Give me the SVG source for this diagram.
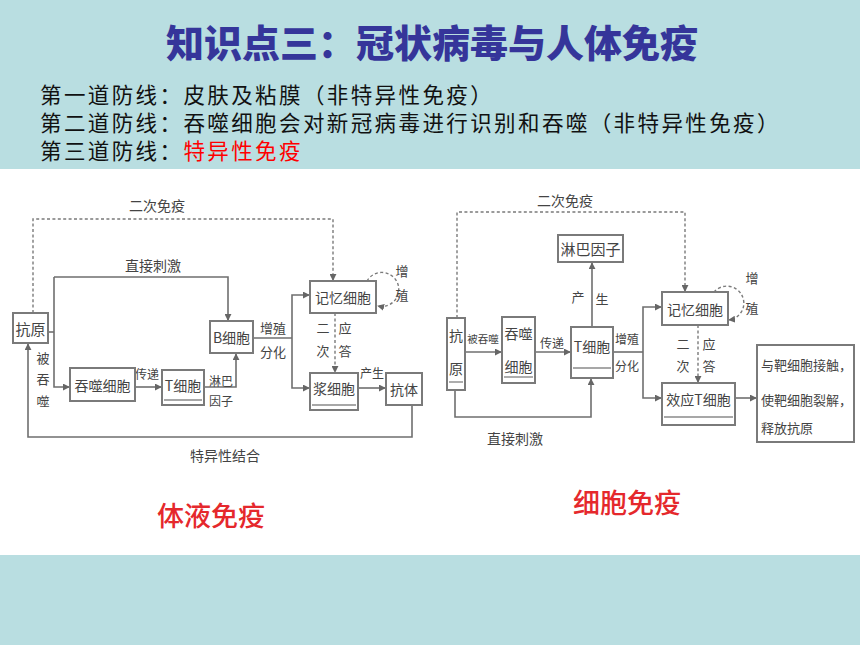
<svg xmlns="http://www.w3.org/2000/svg" width="860" height="645" viewBox="0 0 860 645">
<style>
.bg{fill:#b9dee1}
.panel{fill:#fff}
.box{fill:#fff;stroke:#7a7a7a;stroke-width:2}
.dbl{stroke:#8a8a8a;stroke-width:1.4;fill:none}
.ln{stroke:#6f6f6f;stroke-width:1.6;fill:none}
.dash{stroke:#7a7a7a;stroke-width:1.4;stroke-dasharray:3 2.4;fill:none}
.t{font-family:"Noto Sans CJK SC","Noto Sans CJK JP",sans-serif;fill:#444;text-anchor:middle;dominant-baseline:central}
.s10{font-size:10.5px}.s12{font-size:12px}.s13{font-size:13px}.s14{font-size:14px}.s15{font-size:15px}
.red{font-family:"Noto Sans CJK SC",sans-serif;fill:#e5282c;font-size:27px;font-weight:500;text-anchor:middle;dominant-baseline:central}
.head{font-family:"Noto Sans CJK SC",sans-serif;font-size:21.5px;letter-spacing:2.4px;fill:#111;dominant-baseline:central}
</style>
<defs>
<marker id="ar" viewBox="0 0 8 8" refX="7" refY="4" markerWidth="7" markerHeight="7" markerUnits="userSpaceOnUse" orient="auto">
<path d="M0,0 L8,4 L0,8 z" fill="#666"/>
</marker>
</defs>
<rect class="bg" x="0" y="0" width="860" height="645"/>
<rect class="panel" x="0" y="169" width="860" height="386"/>
<g id="title">
<text x="432" y="40" font-family="'Noto Sans CJK SC',sans-serif" font-size="38" font-weight="900" fill="#35359a" text-anchor="middle" dominant-baseline="central">知识点三：冠状病毒与人体免疫</text>
</g>
<g id="lines">
<text class="head" x="40" y="93">第一道防线：皮肤及粘膜（非特异性免疫）</text>
<text class="head" x="40" y="121">第二道防线：吞噬细胞会对新冠病毒进行识别和吞噬（非特异性免疫）</text>
<text class="head" x="40" y="149">第三道防线：<tspan fill="#ff0000">特异性免疫</tspan></text>
</g>

<!-- Left: humoral -->
<g id="connectors-left">
<path class="dash" d="M33,313 V219 H333 V280" marker-end="url(#ar)"/>
<path class="ln" d="M48,332 H54"/>
<path class="ln" d="M54,277 V387 H69" marker-end="url(#ar)"/>
<path class="ln" d="M54,277 H228 V320" marker-end="url(#ar)"/>
<path class="ln" d="M135,387 H161" marker-end="url(#ar)"/>
<path class="ln" d="M204,387 H236 V354" marker-end="url(#ar)"/>
<path class="ln" d="M253,338 H292"/>
<path class="ln" d="M292,338 V295 H309" marker-end="url(#ar)"/>
<path class="ln" d="M292,338 V388 H309" marker-end="url(#ar)"/>
<path class="dash" d="M367,281 A17,17 0 1 1 378,306" marker-end="url(#ar)"/>
<path class="dash" d="M335,313 V372" marker-end="url(#ar)"/>
<path class="ln" d="M358,388 H385" marker-end="url(#ar)"/>
<path class="ln" d="M412,405 V437 H28 V344" marker-end="url(#ar)"/>
</g>
<g id="labels-left">
<text class="t s14" x="157" y="205">二次免疫</text>
<text class="t s14" x="153" y="265">直接刺激</text>
<text class="t s13" x="43" y="357">被</text>
<text class="t s13" x="43" y="378">吞</text>
<text class="t s13" x="43" y="400">噬</text>
<text class="t s12" x="147" y="373">传递</text>
<text class="t s12" x="221" y="380">淋巴</text>
<text class="t s12" x="221" y="400">因子</text>
<text class="t s13" x="273" y="327">增殖</text>
<text class="t s13" x="273" y="351">分化</text>
<text class="t s13" x="402" y="270">增</text>
<text class="t s13" x="402" y="294">殖</text>
<text class="t s13" x="323" y="327">二</text>
<text class="t s13" x="323" y="350">次</text>
<text class="t s13" x="345" y="327">应</text>
<text class="t s13" x="345" y="350">答</text>
<text class="t s12" x="372" y="372">产生</text>
<text class="t s14" x="225" y="455">特异性结合</text>
<text class="red" x="211" y="514">体液免疫</text>
</g>
<g id="L-antigen"><rect class="box" x="13" y="313" width="35" height="30"/><text class="t s15" x="30.5" y="328">抗原</text></g>
<g id="L-phago"><rect class="box" x="70" y="368" width="65" height="33"/><text class="t s14" x="102.5" y="384.5">吞噬细胞</text></g>
<g id="L-tcell"><rect class="box" x="162" y="370" width="42" height="35"/><path class="dbl" d="M164,400 H202"/><text class="t s14" x="183" y="385">T细胞</text></g>
<g id="L-bcell"><rect class="box" x="210" y="321" width="43" height="32"/><text class="t s14" x="231.5" y="337">B细胞</text></g>
<g id="L-memory"><rect class="box" x="310" y="281" width="66" height="32"/><text class="t s14" x="343" y="297">记忆细胞</text></g>
<g id="L-plasma"><rect class="box" x="310" y="373" width="48" height="37"/><path class="dbl" d="M312,405 H356"/><text class="t s14" x="334" y="388">浆细胞</text></g>
<g id="L-antibody"><rect class="box" x="386" y="373" width="36" height="32"/><text class="t s14" x="404" y="389">抗体</text></g>

<!-- Right: cellular -->
<g id="connectors-right">
<path class="dash" d="M457,318 V212 H685 V291" marker-end="url(#ar)"/>
<path class="ln" d="M592,327 V263" marker-end="url(#ar)"/>
<path class="ln" d="M465,352 H501" marker-end="url(#ar)"/>
<path class="ln" d="M535,352 H570" marker-end="url(#ar)"/>
<path class="ln" d="M455,390 V417 H591 V379" marker-end="url(#ar)"/>
<path class="ln" d="M613,352 H643"/>
<path class="ln" d="M643,352 V307 H661" marker-end="url(#ar)"/>
<path class="ln" d="M643,352 V398 H661" marker-end="url(#ar)"/>
<path class="dash" d="M714,292 A17,17 0 1 1 729,320" marker-end="url(#ar)"/>
<path class="dash" d="M698,325 V382" marker-end="url(#ar)"/>
<path class="ln" d="M735,398 H756" marker-end="url(#ar)"/>
</g>
<g id="labels-right">
<text class="t s14" x="565" y="200">二次免疫</text>
<text class="t s13" x="578" y="296">产</text>
<text class="t s13" x="602" y="298">生</text>
<text class="t s10" x="483" y="338">被吞噬</text>
<text class="t s12" x="552" y="342">传递</text>
<text class="t s12" x="627" y="338">增殖</text>
<text class="t s12" x="627" y="365">分化</text>
<text class="t s13" x="752" y="277">增</text>
<text class="t s13" x="752" y="307">殖</text>
<text class="t s13" x="683" y="343">二</text>
<text class="t s13" x="683" y="365">次</text>
<text class="t s13" x="709" y="343">应</text>
<text class="t s13" x="709" y="365">答</text>
<text class="t s14" x="515" y="438">直接刺激</text>
<text class="red" x="627" y="501">细胞免疫</text>
</g>
<g id="R-lymphokine"><rect class="box" x="558" y="235" width="65" height="27"/><text class="t s15" x="590.5" y="248.5">淋巴因子</text></g>
<g id="R-antigen"><rect class="box" x="447" y="318" width="18" height="72"/><path class="dbl" d="M449,382 H463"/><text class="t s14" x="456" y="335">抗</text><text class="t s14" x="456" y="368">原</text></g>
<g id="R-phago"><rect class="box" x="502" y="317" width="33" height="66"/><path class="dbl" d="M504,377 H533"/><text class="t s14" x="518.5" y="333">吞噬</text><text class="t s14" x="518.5" y="366">细胞</text></g>
<g id="R-tcell"><rect class="box" x="571" y="327" width="42" height="51"/><path class="dbl" d="M573,368 H611"/><text class="t s14" x="592" y="346">T细胞</text></g>
<g id="R-memory"><rect class="box" x="662" y="292" width="66" height="33"/><text class="t s14" x="695" y="308.5">记忆细胞</text></g>
<g id="R-effector"><rect class="box" x="662" y="383" width="73" height="42"/><path class="dbl" d="M664,417 H733"/><text class="t s14" x="698.5" y="399">效应T细胞</text></g>
<g id="R-result"><rect class="box" x="757" y="345" width="97" height="97"/>
<text class="t s13" x="761" y="364" style="text-anchor:start">与靶细胞接触，</text>
<text class="t s13" x="761" y="399" style="text-anchor:start">使靶细胞裂解，</text>
<text class="t s13" x="761" y="427" style="text-anchor:start">释放抗原</text></g>
</svg>
